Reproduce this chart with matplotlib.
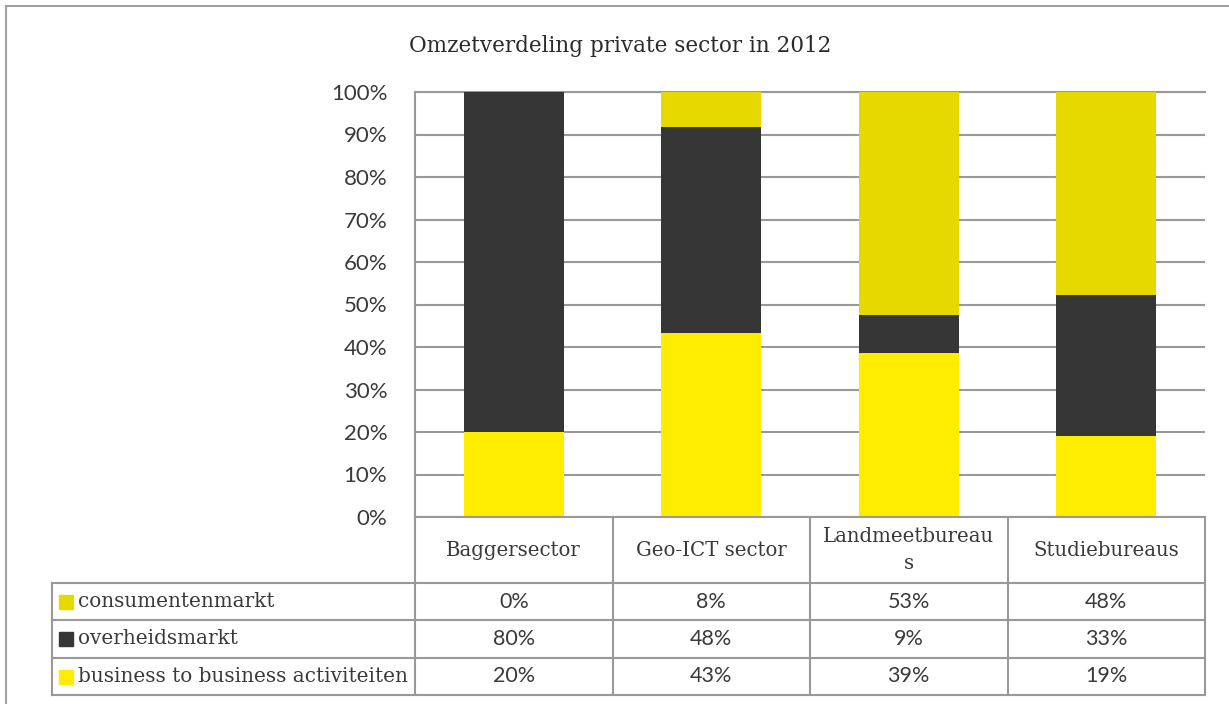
import matplotlib.pyplot as plt
import numpy as np

# Data (aandeel in %)
sectors = ['Baggersector', 'Geo-ICT sector', 'Landmeetbureaus', 'Studiebureaus']
header_labels = ['Baggersector', 'Geo-ICT sector', 'Landmeetbureau\ns', 'Studiebureaus']
b2b = [20.0, 43.4, 38.6, 19.0]
overheid = [80.0, 48.4, 8.9, 33.3]
consument = [0.0, 8.2, 52.5, 47.7]
series_names = ['consumentenmarkt', 'overheidsmarkt', 'business to business activiteiten']
table_values = [
    ['0%', '8%', '53%', '48%'],
    ['80%', '48%', '9%', '33%'],
    ['20%', '43%', '39%', '19%'],
]
colors = ['#e6d900', '#363636', '#ffed00']

W, H = 1229, 704
txt = '#3a3a3a'
grid = '#999999'
serif = 'DejaVu Serif'
sans = 'Lato'

fig = plt.figure(figsize=(W / 100, H / 100), dpi=100)

# plot area in pixels
x0, x1, y0, y1 = 415, 1205, 92, 517
ax = fig.add_axes([x0 / W, 1 - y1 / H, (x1 - x0) / W, (y1 - y0) / H])
x = np.arange(len(sectors))
w = 0.506
ax.bar(x, b2b, w, color=colors[2], zorder=3)
ax.bar(x, overheid, w, bottom=b2b, color=colors[1], zorder=3)
ax.bar(x, consument, w, bottom=np.add(b2b, overheid), color=colors[0], zorder=3)
ax.set_xlim(-0.5, len(sectors) - 0.5)
ax.set_ylim(0, 100)
ax.set_yticks(np.arange(0, 101, 10))
ax.set_yticklabels([f'{v}%' for v in range(0, 101, 10)], fontsize=16, color=txt, family=sans)
ax.set_xticks([])
ax.grid(axis='y', color=grid, linewidth=1.5, zorder=0)
ax.tick_params(axis='y', length=0, pad=20)
for s in ['right', 'bottom']:
    ax.spines[s].set_visible(False)
for s in ['left', 'top']:
    ax.spines[s].set_color(grid)
    ax.spines[s].set_linewidth(1.5)

fig.text(620 / W, 1 - 46 / H, 'Omzetverdeling private sector in 2012', ha='center', va='center',
         fontsize=15.5, color='#2a2a2a', family=serif)

# overlay for the data table, pixel coordinates
ov = fig.add_axes([0, 0, 1, 1], zorder=5)
ov.set_xlim(0, W)
ov.set_ylim(H, 0)
ov.axis('off')
ov.patch.set_alpha(0)

# outer chart border (left and top)
ov.plot([6, 6], [6, H], color='#a0a0a0', lw=1.5)
ov.plot([6, W], [6, 6], color='#a0a0a0', lw=1.5)

cols = np.linspace(x0, x1, len(sectors) + 1)
rows = [517, 583, 620, 658, 695]
lc = '#999999'
lw = 1.5
for cx in cols:
    ov.plot([cx, cx], [rows[0], rows[-1]], color=lc, lw=lw)
ov.plot([52, 52], [rows[1], rows[-1]], color=lc, lw=lw)
ov.plot([x0, x1], [rows[0], rows[0]], color=lc, lw=lw)
for ry in rows[1:]:
    ov.plot([52, x1], [ry, ry], color=lc, lw=lw)

for i, lab in enumerate(header_labels):
    cx = (cols[i] + cols[i + 1]) / 2
    ov.text(cx, (rows[0] + rows[1]) / 2, lab, ha='center', va='center', fontsize=14.2,
            color=txt, family=serif, linespacing=1.5)

for r, name in enumerate(series_names):
    cy = (rows[r + 1] + rows[r + 2]) / 2
    ov.add_patch(plt.Rectangle((59, cy - 7), 14, 14, color=colors[r]))
    ov.text(78, cy, name, ha='left', va='center', fontsize=14.4, color=txt, family=serif)
    for i in range(len(sectors)):
        cx = (cols[i] + cols[i + 1]) / 2
        ov.text(cx, cy, table_values[r][i], ha='center', va='center', fontsize=15.5,
                color=txt, family=sans)

plt.savefig('out.png', dpi=100)
